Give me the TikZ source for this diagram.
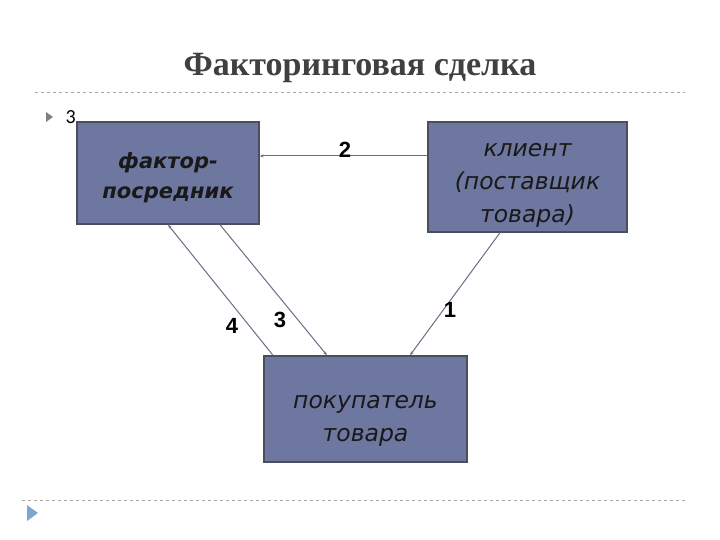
\documentclass[tikz,border=0pt]{standalone}
\usepackage{fontspec}
\setmainfont{Liberation Serif}
\newfontfamily\boxfont{DejaVu Sans}
\newfontfamily\numfont{Liberation Sans}
\newfontfamily\bulletfont{Carlito}
\usetikzlibrary{arrows.meta,positioning}

\definecolor{boxfill}{HTML}{6D77A0}
\definecolor{boxedge}{HTML}{4A4E5E}
\definecolor{linkcol}{HTML}{6A6E88}
\definecolor{titlecol}{HTML}{404040}
\definecolor{rulecol}{HTML}{A8A8A8}
\definecolor{markcol}{HTML}{7FA6CF}
\newcommand\topgap[1]{\rule{0pt}{#1}}

\begin{document}
\begin{tikzpicture}[x=1pt, y=-1pt,
  party/.style={rectangle, draw=boxedge, line width=1.4pt, fill=boxfill, align=center,
    font=\boxfont\itshape\fontsize{23.5}{33}\selectfont, text=black!90},
  link/.style={-{Stealth[length=4pt, width=3pt]}, draw=linkcol, line width=1pt},
  num/.style={font=\numfont\bfseries\fontsize{22}{22}\selectfont},
  sepline/.style={draw=rulecol, dashed, line width=0.6pt}
]
\useasboundingbox[fill=white] (0,0) rectangle (720,540);

% title and slide rules
\node[font=\bfseries\fontsize{34}{34}\selectfont, text=titlecol] (title) at (360,68) {Факторинговая сделка};
\draw[sepline] (35,92) -- (685,92);
\draw[sepline] (22,500) -- (685,500);
\fill[gray] (46,112) -- (53,117) -- (46,122) -- cycle;
\node[font=\bulletfont\fontsize{20}{20}\selectfont, anchor=west] (bullet) at (62,117) {3};
\fill[markcol] (27,505) -- (38,513) -- (27,521) -- cycle;

% parties
\node[party, minimum width=182pt, minimum height=102pt, font=\boxfont\bfseries\itshape\fontsize{21}{30}\selectfont] (factor) at (168,173) {\topgap{26pt}фактор-\\посредник};
\node[party, minimum width=199pt, minimum height=110pt] (client) at (527.5,177) {\topgap{30pt}клиент\\(поставщик\\товара)};
\node[party, minimum width=203pt, minimum height=106pt] (buyer) at (365.5,409) {\topgap{36pt}покупатель\\товара};

% flows
\draw[link] (client.west |- 0,156) -- (factor.east |- 0,156);
\draw[link] ([xshift=-27.5pt]client.south) -- ([xshift=44.5pt]buyer.north);
\draw[link] ([xshift=52pt]factor.south) -- ([xshift=-38.5pt]buyer.north);
\draw[link] ([xshift=-92.5pt]buyer.north) -- (factor.south);

% step numbers
\node[num] (n2) at (345,150) {2};
\node[num] (n1) at (450,310) {1};
\node[num] (n3) at (280,320) {3};
\node[num] (n4) at (232,326) {4};
\end{tikzpicture}
\end{document}
